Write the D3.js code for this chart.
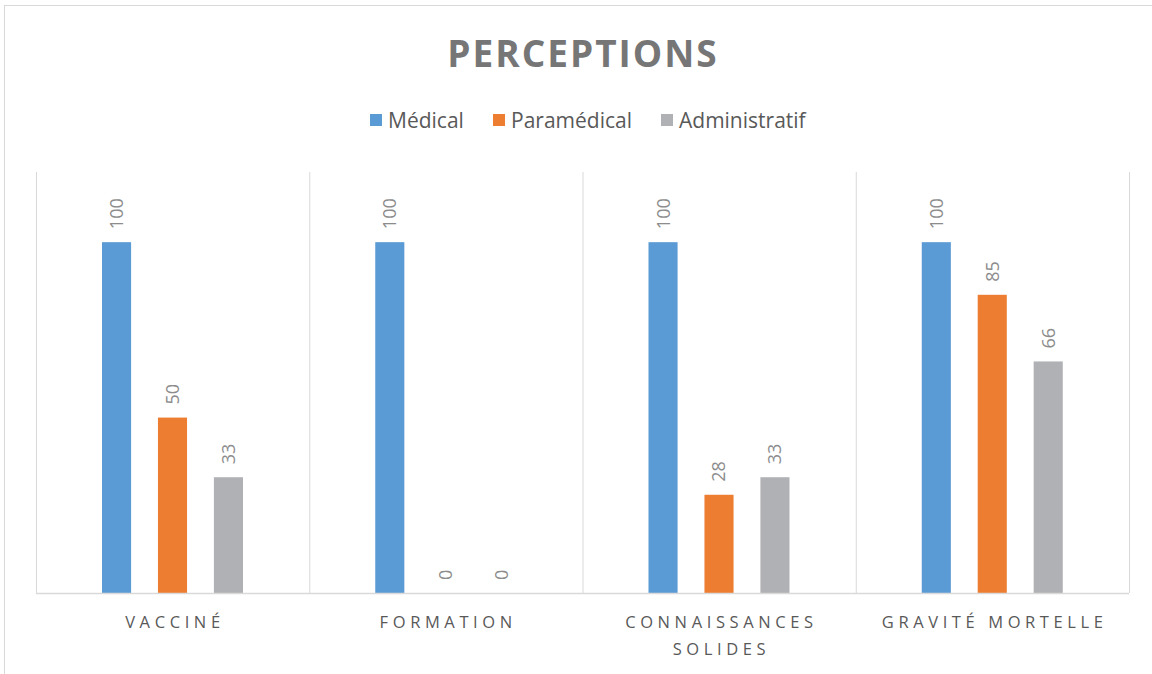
<!DOCTYPE html>
<html>
<head>
<meta charset="utf-8">
<style>
  body { margin: 0; background: #fff; }
  svg { display: block; font-family: 'Open Sans', 'Noto Sans', sans-serif; }
</style>
</head>
<body>
<svg width="1152" height="674"></svg>
<script src="https://d3js.org/d3.v7.min.js"></script>
<script>
  // chart data
  const categories = ["VACCINÉ", "FORMATION", "CONNAISSANCES SOLIDES", "GRAVITÉ MORTELLE"];
  const series = ["Médical", "Paramédical", "Administratif"];
  const medical = [100, 100, 100, 100];
  const paramedical = [50, 0, 28, 85];
  const administratif = [33, 0, 33, 66];
  const colors = ["#5B9BD5", "#ED7D31", "#B0B1B5"];

  const values = [medical, paramedical, administratif];
  const rows = [];
  categories.forEach((c, i) => {
    series.forEach((s, j) => rows.push({ cat: c, ser: s, val: values[j][i] }));
  });

  const svg = d3.select("svg");
  const plotLeft = 36, plotRight = 1129, plotTop = 172, plotBottom = 593;

  // outer chart frame
  svg.append("rect")
    .attr("x", 4.5).attr("y", 5.5)
    .attr("width", 1200).attr("height", 800)
    .attr("fill", "none").attr("stroke", "#d9d9d9");

  // title
  svg.append("text")
    .attr("x", 583).attr("y", 67)
    .attr("text-anchor", "middle")
    .style("font-size", "37px").style("font-weight", "bold")
    .style("letter-spacing", "2px")
    .style("fill", "#767676")
    .text("PERCEPTIONS");

  // legend
  const legendX = [370, 493, 661];
  const legend = svg.append("g").selectAll("g")
    .data(series)
    .join("g")
    .attr("transform", (d, i) => `translate(${legendX[i]},114)`);
  legend.append("rect")
    .attr("width", 12).attr("height", 12)
    .attr("fill", (d, i) => colors[i]);
  legend.append("text")
    .attr("x", 18).attr("y", 6).attr("dy", "0.36em")
    .style("font-size", "21px").style("fill", "#595959")
    .text(d => d);

  const x0 = d3.scaleBand().domain(categories).range([plotLeft, plotRight]);
  const x1 = d3.scaleBand().domain(series).range([66, 207]).paddingInner(0.48);
  const y = d3.scaleLinear().domain([0, 120]).range([plotBottom, plotTop]);

  // category separators
  svg.append("g").selectAll("line")
    .data(categories.concat(["end"]))
    .join("line")
    .attr("x1", (d, i) => plotLeft + i * x0.step() + 0.5)
    .attr("x2", (d, i) => plotLeft + i * x0.step() + 0.5)
    .attr("y1", plotTop).attr("y2", plotBottom)
    .attr("stroke", "#d9d9d9");

  // bars
  svg.append("g").selectAll("rect")
    .data(rows)
    .join("rect")
    .attr("x", d => x0(d.cat) + x1(d.ser))
    .attr("width", x1.bandwidth())
    .attr("y", d => y(d.val))
    .attr("height", d => y(0) - y(d.val))
    .attr("fill", d => colors[series.indexOf(d.ser)]);

  // axis line
  svg.append("line")
    .attr("x1", plotLeft).attr("x2", plotRight)
    .attr("y1", plotBottom + 0.5).attr("y2", plotBottom + 0.5)
    .attr("stroke", "#d9d9d9").attr("stroke-width", 1.5);

  // data labels
  svg.append("g").selectAll("text")
    .data(rows)
    .join("text")
    .attr("transform", d => {
      const cx = x0(d.cat) + x1(d.ser) + x1.bandwidth() / 2;
      return `translate(${cx},${y(d.val) - 13}) rotate(-90)`;
    })
    .attr("dy", "0.36em")
    .style("font-size", "18px").style("fill", "#8c8c8c")
    .text(d => d.val);

  // category labels
  const spacing = 4.6;
  const catLabels = svg.append("g").selectAll("text")
    .data(categories)
    .join("text")
    .attr("text-anchor", "middle")
    .attr("y", 628)
    .style("font-size", "16.5px").style("fill", "#595959")
    .style("letter-spacing", spacing + "px");
  catLabels.each(function (d) {
    const lines = d === "CONNAISSANCES SOLIDES" ? ["CONNAISSANCES", "SOLIDES"] : [d];
    const cx = x0(d) + x0.bandwidth() / 2 + spacing / 2;
    d3.select(this).selectAll("tspan")
      .data(lines)
      .join("tspan")
      .attr("x", cx)
      .attr("dy", (l, i) => i === 0 ? 0 : 27)
      .text(l => l);
  });
</script>
</body>
</html>
